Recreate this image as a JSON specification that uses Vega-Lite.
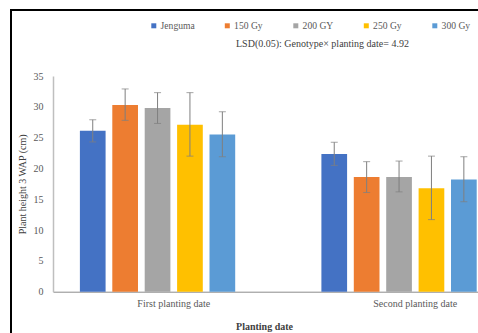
{
  "$schema": "https://vega.github.io/schema/vega-lite/v6.json",
  "autosize": {"type": "none"},
  "padding": {"left": 11, "top": 10, "right": -5, "bottom": -5},
  "width": 472,
  "height": 328,
  "background": "white",
  "config": {
    "view": {"stroke": "black", "strokeWidth": 2},
    "font": "Liberation Serif"
  },
  "title": {
    "text": "LSD(0.05): Genotype× planting date= 4.92",
    "anchor": "start",
    "frame": "group",
    "orient": "top",
    "dx": 225,
    "offset": -43.5,
    "baseline": "middle",
    "font": "Liberation Serif",
    "fontSize": 10,
    "fontWeight": "normal",
    "color": "#404040"
  },
  "data": {
    "values": [
      {"date": "First planting date", "genotype": "Jenguma", "height": 26.1, "lo": 24.3, "hi": 27.9},
      {"date": "First planting date", "genotype": "150 Gy", "height": 30.3, "lo": 27.8, "hi": 32.9},
      {"date": "First planting date", "genotype": "200 GY", "height": 29.8, "lo": 27.3, "hi": 32.3},
      {"date": "First planting date", "genotype": "250 Gy", "height": 27.1, "lo": 22.0, "hi": 32.3},
      {"date": "First planting date", "genotype": "300 Gy", "height": 25.5, "lo": 21.9, "hi": 29.2},
      {"date": "Second planting date", "genotype": "Jenguma", "height": 22.35, "lo": 20.5, "hi": 24.25},
      {"date": "Second planting date", "genotype": "150 Gy", "height": 18.6, "lo": 16.1, "hi": 21.1},
      {"date": "Second planting date", "genotype": "200 GY", "height": 18.6, "lo": 16.2, "hi": 21.2},
      {"date": "Second planting date", "genotype": "250 Gy", "height": 16.8, "lo": 11.7, "hi": 22.0},
      {"date": "Second planting date", "genotype": "300 Gy", "height": 18.2, "lo": 14.6, "hi": 21.9}
    ]
  },
  "encoding": {
    "x": {
      "field": "date",
      "type": "nominal",
      "sort": null,
      "scale": {"type": "band", "paddingInner": 0, "paddingOuter": 0, "range": [42, 525]},
      "axis": {
        "orient": "bottom",
        "offset": -46.3,
        "title": "Planting date",
        "titleFont": "Liberation Serif",
        "titleFontSize": 10,
        "titleFontWeight": "bold",
        "titleColor": "#404040",
        "titleX": 253,
        "titleY": 35,
        "titleBaseline": "middle",
        "titleAnchor": "start",
        "titleAlign": "center",
        "labelAngle": 0,
        "labelFont": "Liberation Serif",
        "labelFontSize": 10,
        "labelColor": "#595959",
        "labelPadding": 7,
        "ticks": false,
        "domainColor": "#8c8c8c",
        "domainWidth": 1,
        "grid": false
      }
    },
    "xOffset": {
      "field": "genotype",
      "type": "nominal",
      "scale": {"domain": ["Jenguma", "150 Gy", "200 GY", "250 Gy", "300 Gy", "_"], "paddingInner": 0.207, "paddingOuter": 0.83}
    }
  },
  "layer": [
    {
      "mark": {"type": "bar"},
      "encoding": {
        "y": {
          "field": "height",
          "type": "quantitative",
          "scale": {"domain": [0, 35], "nice": false, "range": [281.7, 66]},
          "axis": {
            "offset": -42,
            "values": [0, 5, 10, 15, 20, 25, 30, 35],
            "title": "Plant height 3 WAP (cm)",
            "titleFont": "Liberation Serif",
            "titleFontSize": 10,
            "titleFontWeight": "normal",
            "titleColor": "#404040",
            "titlePadding": 6,
            "labelFont": "Liberation Serif",
            "labelFontSize": 10,
            "labelColor": "#595959",
            "labelPadding": 10,
            "ticks": false,
            "grid": false,
            "domainColor": "#bfbfbf",
            "domainWidth": 1.5
          }
        },
        "color": {
          "field": "genotype",
          "type": "nominal",
          "scale": {
            "domain": ["Jenguma", "150 Gy", "200 GY", "250 Gy", "300 Gy"],
            "range": ["#4472C4", "#ED7D31", "#A5A5A5", "#FFC000", "#5B9BD5"]
          },
          "legend": {
            "orient": "none",
            "direction": "horizontal",
            "columns": 5,
            "legendX": 138,
            "legendY": 11,
            "title": null,
            "symbolType": "square",
            "symbolSize": 25,
            "symbolStrokeWidth": 0,
            "labelOffset": 2,
            "columnPadding": 27.5,
            "labelFont": "Liberation Serif",
            "labelFontSize": 9.6,
            "labelColor": "#595959",
            "gridAlign": "none"
          }
        }
      }
    },
    {
      "mark": {"type": "rule", "color": "#7f7f7f", "strokeWidth": 1},
      "encoding": {
        "y": {"field": "lo", "type": "quantitative"},
        "y2": {"field": "hi"}
      }
    },
    {
      "mark": {"type": "tick", "color": "#7f7f7f", "size": 7, "thickness": 1},
      "encoding": {
        "y": {"field": "lo", "type": "quantitative"}
      }
    },
    {
      "mark": {"type": "tick", "color": "#7f7f7f", "size": 7, "thickness": 1},
      "encoding": {
        "y": {"field": "hi", "type": "quantitative"}
      }
    }
  ]
}
